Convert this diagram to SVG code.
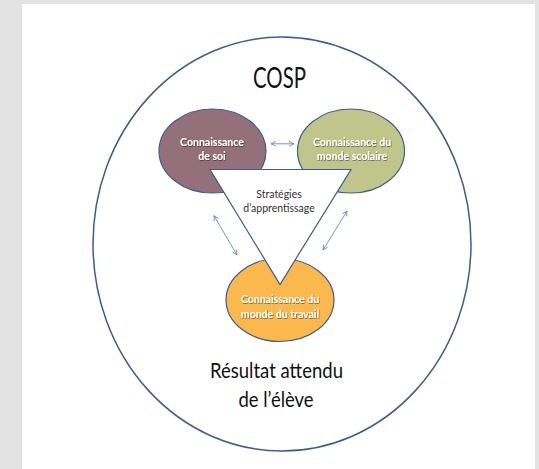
<svg xmlns="http://www.w3.org/2000/svg" width="539" height="469" viewBox="0 0 539 469">
  <defs>
    <style>
      .node { stroke: #3b5d8f; stroke-width: 1.2; }
      .lbl { font-family: Lato, "Liberation Sans", sans-serif; font-weight: bold; font-size: 10.5px; fill: #ffffff; text-anchor: middle; filter: url(#sh); }
      .big { font-family: Lato, "Liberation Sans", sans-serif; fill: #111111; text-anchor: middle; }
      .conn { stroke: #4a7ebb; stroke-width: 0.8; fill: none; marker-start: url(#ah); marker-end: url(#ah); }
    </style>
    <marker id="ah" viewBox="0 0 10 10" refX="9" refY="5" markerWidth="6" markerHeight="6" orient="auto-start-reverse" markerUnits="userSpaceOnUse">
      <path d="M1,1 L9,5 L1,9" fill="none" stroke="#4a7ebb" stroke-width="1.2"/>
    </marker>
    <filter id="sh" x="-20%" y="-40%" width="140%" height="180%">
      <feDropShadow dx="0.6" dy="0.8" stdDeviation="0.5" flood-color="#000000" flood-opacity="0.55"/>
    </filter>
  </defs>
  <rect x="0" y="0" width="539" height="469" fill="#e3e3e3"/>
  <rect x="22" y="4" width="513" height="465" fill="#ffffff"/>

  <g id="cosp">
    <ellipse cx="282" cy="244" rx="189" ry="207" fill="none" stroke="#3b5d8f" stroke-width="1.5"/>
    <text class="big" x="279.5" y="88" font-size="29" textLength="53" lengthAdjust="spacingAndGlyphs">COSP</text>
    <text class="big" x="276.5" y="378" font-size="21" textLength="133" lengthAdjust="spacingAndGlyphs">Résultat attendu</text>
    <text class="big" x="276" y="407" font-size="21" textLength="75" lengthAdjust="spacingAndGlyphs">de l’élève</text>
  </g>

  <g id="soi">
    <ellipse class="node" cx="212.5" cy="151" rx="53.5" ry="42" fill="#93707a"/>
    <text class="lbl" x="212" y="146">Connaissance</text>
    <text class="lbl" x="212" y="160">de soi</text>
  </g>

  <g id="scolaire">
    <ellipse class="node" cx="351" cy="151" rx="53.5" ry="42" fill="#c0c58c"/>
    <text class="lbl" x="352" y="146">Connaissance du</text>
    <text class="lbl" x="352" y="160">monde scolaire</text>
  </g>

  <g id="travail">
    <ellipse class="node" cx="280" cy="300" rx="54" ry="41.5" fill="#fbb84d"/>
    <text class="lbl" x="280" y="303">Connaissance du</text>
    <text class="lbl" x="280" y="318">monde du travail</text>
  </g>

  <g id="strategies">
    <polygon class="node" points="210,169.5 351,169.5 280,284.5" fill="#ffffff"/>
    <text x="279" y="198" font-family="Lato, 'Liberation Sans', sans-serif" font-size="10.5" fill="#333333" text-anchor="middle">Stratégies</text>
    <text x="279" y="212" font-family="Lato, 'Liberation Sans', sans-serif" font-size="10.5" fill="#333333" text-anchor="middle">d’apprentissage</text>
  </g>

  <g id="connectors">
    <line class="conn" x1="271" y1="143.8" x2="294" y2="143.8"/>
    <line class="conn" x1="214" y1="215.7" x2="237" y2="255"/>
    <line class="conn" x1="347" y1="211" x2="323" y2="250"/>
  </g>
</svg>
